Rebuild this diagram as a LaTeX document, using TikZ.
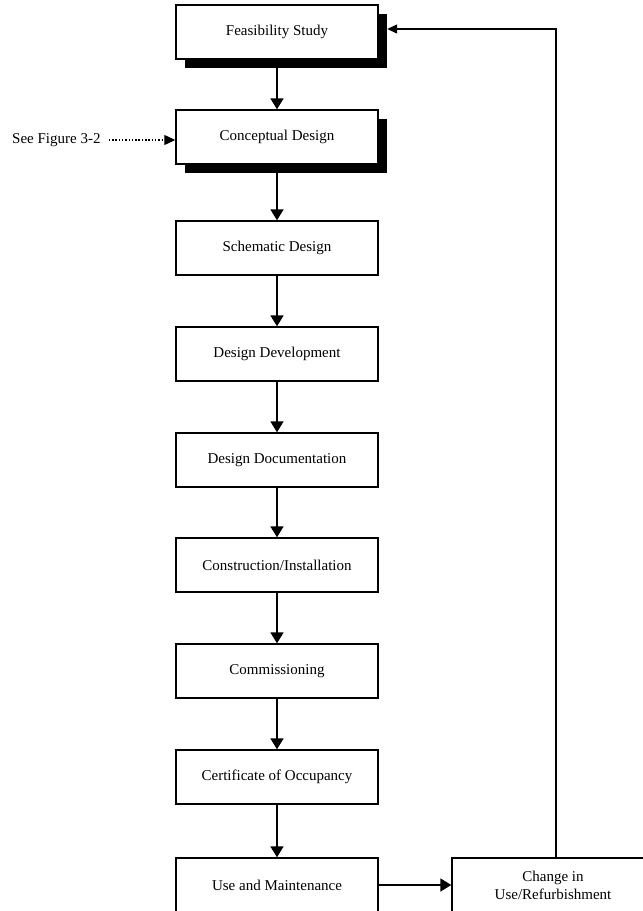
\documentclass[tikz,border=0pt]{standalone}
\usepackage{fontspec}
\setmainfont{Liberation Serif}
\usetikzlibrary{arrows.meta,calc}
\begin{document}
\begin{tikzpicture}[x=1pt,y=-1pt,
  every node/.style={font=\fontsize{15}{18}\selectfont},
  stage/.style={draw=black,line width=1.4pt,fill=white,minimum width=202pt,minimum height=54pt,inner sep=0pt,align=center},
  shadowbox/.style={fill=black,draw=none,minimum width=202pt,minimum height=54pt,inner sep=0pt},
  arr/.style={line width=1.8pt,-{Triangle[length=11pt,width=13pt]}},
  fbarr/.style={line width=1.4pt,-{Triangle[length=10pt,width=9pt]}},
  dotarr/.style={line width=1.2pt,dash pattern=on 1.5pt off 1.8pt,-{Triangle[length=11pt,width=10pt]}}]
\useasboundingbox (0,0) rectangle (643,911);
\clip (0,0) rectangle (643,911);
\fill[white] (0,0) rectangle (643,911);
% shadows
\node[shadowbox] (feasshadow) at (286,41) {};
\node[shadowbox] (concshadow) at (286,146) {};
% boxes
\node[stage] (feas) at (277,32) {Feasibility Study};
\node[stage] (conc) at (277,137) {Conceptual Design};
\node[stage] (schem) at (277,248) {Schematic Design};
\node[stage] (dev) at (277,354) {Design Development};
\node[stage] (doc) at (277,460) {Design Documentation};
\node[stage] (cons) at (277,565) {Construction/Installation};
\node[stage] (comm) at (277,671) {Commissioning};
\node[stage] (cert) at (277,777) {Certificate of Occupancy};
\node[stage] (use) at (277,885) {Use and Maintenance};
\node[stage] (change) at (553,885) {Change in\\Use/Refurbishment};
\node[anchor=west,inner sep=0pt] (seefig) at (12,140) {See Figure 3-2};
% connectors
\draw[arr] (feas.south) -- (conc.north);
\draw[arr] (concshadow.south -| conc.south) -- (schem.north);
\draw[arr] (schem) -- (dev);
\draw[arr] (dev) -- (doc);
\draw[arr] (doc) -- (cons);
\draw[arr] (cons) -- (comm);
\draw[arr] (comm) -- (cert);
\draw[arr] (cert) -- (use);
\draw[arr] (use) -- (change);
\coordinate (fbturn) at (556,29);
\draw[fbarr] (change.north -| fbturn) -- (fbturn) -- (feasshadow.east |- fbturn);
\draw[dotarr] ($(seefig.east)+(8,0)$) -- (conc.west |- seefig.east);
\end{tikzpicture}
\end{document}
